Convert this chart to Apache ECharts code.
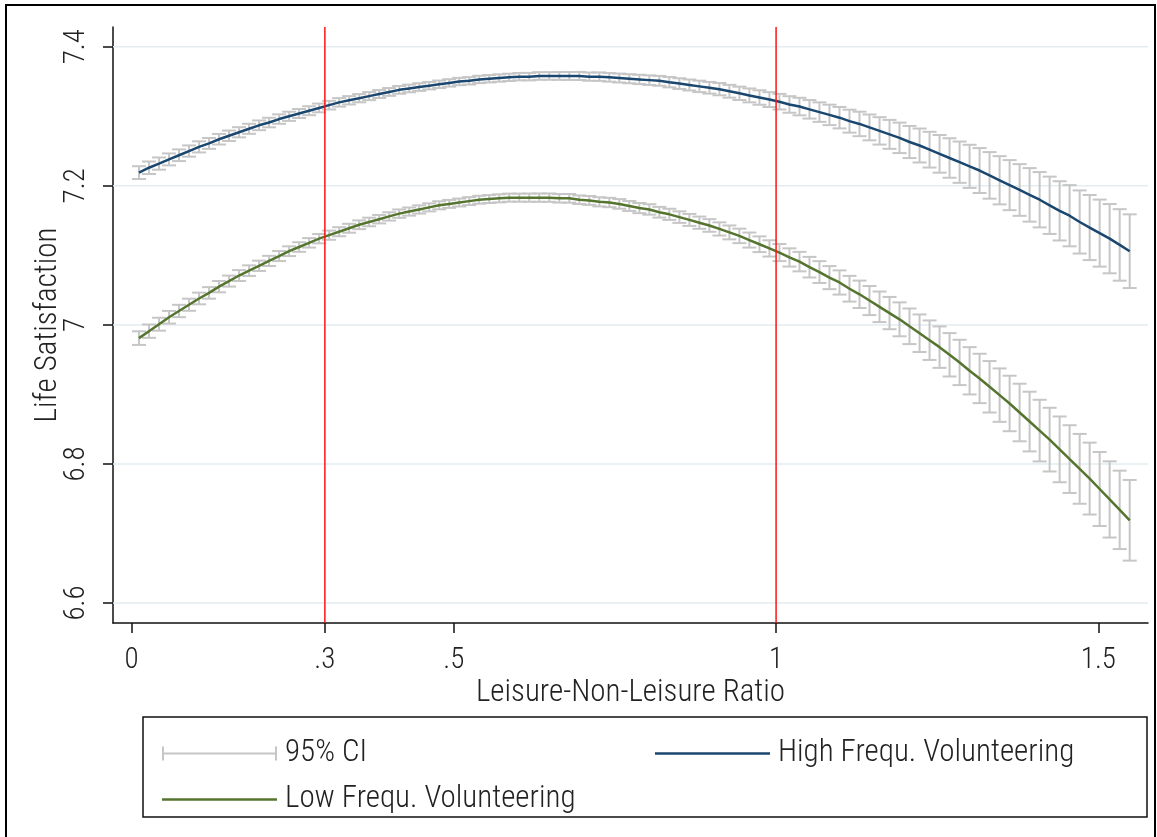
<!DOCTYPE html>
<html>
<head>
<meta charset="utf-8">
<script src="https://cdn.jsdelivr.net/npm/echarts@6/dist/echarts.min.js"></script>
<style>html,body{margin:0;padding:0;background:#fff}#c{width:1157px;height:837px}</style>
</head>
<body>
<div id="c"></div>
<script>
// ---- data ----
const xRatio = [0.0116,0.0271,0.0427,0.0582,0.0737,0.0892,0.1048,0.1203,0.1358,0.1513,0.1669,0.1824,0.1979,0.2134,0.2290,0.2445,0.2600,0.2755,0.2911,0.3066,0.3221,0.3376,0.3532,0.3687,0.3842,0.3997,0.4153,0.4308,0.4463,0.4618,0.4774,0.4929,0.5084,0.5239,0.5395,0.5550,0.5705,0.5860,0.6016,0.6171,0.6326,0.6481,0.6637,0.6792,0.6947,0.7102,0.7258,0.7413,0.7568,0.7723,0.7879,0.8034,0.8189,0.8344,0.8500,0.8655,0.8810,0.8965,0.9121,0.9276,0.9431,0.9586,0.9742,0.9897,1.0052,1.0207,1.0363,1.0518,1.0673,1.0828,1.0984,1.1139,1.1294,1.1449,1.1605,1.1760,1.1915,1.2070,1.2226,1.2381,1.2536,1.2691,1.2847,1.3002,1.3157,1.3312,1.3468,1.3623,1.3778,1.3933,1.4089,1.4244,1.4399,1.4554,1.4710,1.4865,1.5020,1.5175,1.5331,1.5486];
const highFit = [7.219,7.226,7.232,7.238,7.244,7.250,7.256,7.261,7.267,7.272,7.277,7.282,7.287,7.291,7.296,7.300,7.304,7.308,7.312,7.316,7.320,7.323,7.326,7.329,7.332,7.335,7.338,7.340,7.342,7.344,7.346,7.348,7.350,7.351,7.353,7.354,7.355,7.356,7.357,7.357,7.358,7.358,7.358,7.358,7.358,7.357,7.357,7.356,7.355,7.354,7.353,7.352,7.351,7.349,7.347,7.345,7.343,7.341,7.339,7.336,7.333,7.330,7.327,7.324,7.321,7.317,7.314,7.310,7.306,7.302,7.298,7.293,7.289,7.284,7.279,7.274,7.269,7.263,7.258,7.252,7.246,7.240,7.234,7.228,7.222,7.215,7.208,7.201,7.194,7.187,7.180,7.172,7.164,7.157,7.148,7.140,7.132,7.124,7.115,7.106];
const highCIHalf = [0.0092,0.0090,0.0088,0.0086,0.0084,0.0081,0.0080,0.0078,0.0076,0.0075,0.0073,0.0072,0.0070,0.0069,0.0068,0.0066,0.0065,0.0064,0.0063,0.0062,0.0061,0.0060,0.0059,0.0058,0.0057,0.0056,0.0056,0.0055,0.0055,0.0054,0.0054,0.0053,0.0053,0.0053,0.0053,0.0053,0.0053,0.0053,0.0053,0.0054,0.0055,0.0055,0.0056,0.0057,0.0058,0.0059,0.0061,0.0062,0.0064,0.0065,0.0067,0.0069,0.0071,0.0074,0.0077,0.0079,0.0082,0.0084,0.0088,0.0092,0.0096,0.0100,0.0104,0.0107,0.0112,0.0119,0.0126,0.0133,0.0140,0.0147,0.0154,0.0165,0.0176,0.0186,0.0197,0.0208,0.0219,0.0231,0.0244,0.0257,0.0271,0.0284,0.0297,0.0310,0.0323,0.0335,0.0347,0.0360,0.0372,0.0385,0.0398,0.0412,0.0426,0.0440,0.0454,0.0468,0.0482,0.0498,0.0514,0.0530];
const lowFit = [6.981,6.991,7.001,7.011,7.020,7.029,7.038,7.046,7.055,7.063,7.071,7.078,7.085,7.092,7.099,7.106,7.112,7.118,7.124,7.129,7.134,7.139,7.144,7.148,7.152,7.156,7.160,7.163,7.166,7.169,7.172,7.174,7.176,7.178,7.180,7.181,7.182,7.183,7.183,7.183,7.183,7.183,7.182,7.182,7.180,7.179,7.177,7.176,7.174,7.171,7.168,7.166,7.162,7.159,7.155,7.151,7.147,7.143,7.138,7.133,7.128,7.122,7.116,7.110,7.104,7.097,7.091,7.083,7.076,7.068,7.061,7.052,7.044,7.035,7.026,7.017,7.008,6.998,6.988,6.978,6.968,6.957,6.946,6.934,6.923,6.911,6.899,6.887,6.874,6.861,6.848,6.835,6.821,6.807,6.793,6.779,6.764,6.749,6.734,6.719];
const lowCIHalf = [0.0098,0.0096,0.0093,0.0091,0.0089,0.0087,0.0084,0.0083,0.0081,0.0079,0.0078,0.0076,0.0074,0.0073,0.0072,0.0070,0.0069,0.0068,0.0067,0.0066,0.0065,0.0064,0.0063,0.0062,0.0061,0.0060,0.0060,0.0059,0.0059,0.0058,0.0058,0.0057,0.0057,0.0057,0.0057,0.0057,0.0058,0.0058,0.0058,0.0059,0.0060,0.0060,0.0061,0.0062,0.0062,0.0064,0.0066,0.0067,0.0069,0.0071,0.0073,0.0075,0.0077,0.0080,0.0083,0.0086,0.0088,0.0091,0.0095,0.0100,0.0104,0.0108,0.0113,0.0117,0.0123,0.0131,0.0140,0.0148,0.0157,0.0166,0.0174,0.0185,0.0197,0.0209,0.0220,0.0232,0.0244,0.0256,0.0270,0.0284,0.0298,0.0312,0.0326,0.0340,0.0355,0.0370,0.0384,0.0399,0.0414,0.0429,0.0443,0.0458,0.0473,0.0487,0.0502,0.0517,0.0532,0.0548,0.0564,0.0580];
const xTickValues = [0, 0.3, 0.5, 1, 1.5];
const yTickValues = [6.6, 6.8, 7, 7.2, 7.4];
const refLines = [0.3, 1];
const seriesNames = ['95% CI', 'High Frequ. Volunteering', 'Low Frequ. Volunteering'];
const xTitle = 'Leisure-Non-Leisure Ratio';
const yTitle = 'Life Satisfaction';

// ---- build ----
const X_MIN = -0.0287, X_MAX = 1.577, Y_MIN = 6.5713, Y_MAX = 7.4284;
const FONT = "'Liberation Sans Narrow','Arial Narrow','Nimbus Sans Narrow','Roboto Condensed','Liberation Sans',sans-serif";
const TXT = '#222';
const FW = 300;
const ciData = [];
xRatio.forEach((x, i) => {
  ciData.push([x, highFit[i] - highCIHalf[i], highFit[i] + highCIHalf[i]]);
  ciData.push([x, lowFit[i] - lowCIHalf[i], lowFit[i] + lowCIHalf[i]]);
});
const highData = xRatio.map((x, i) => [x, highFit[i]]);
const lowData = xRatio.map((x, i) => [x, lowFit[i]]);

const CI_COLOR = '#c6c6c6';
const RED = '#ff1414';
function renderCI(params, api) {
  const x = api.value(0), lo = api.value(1), hi = api.value(2);
  const p1 = api.coord([x, lo]), p2 = api.coord([x, hi]);
  const cw = 7;
  const st = { stroke: CI_COLOR, lineWidth: 2 };
  return {
    type: 'group',
    children: [
      { type: 'line', shape: { x1: p1[0], y1: p1[1], x2: p2[0], y2: p2[1] }, style: st },
      { type: 'line', shape: { x1: p1[0] - cw, y1: p1[1], x2: p1[0] + cw, y2: p1[1] }, style: st },
      { type: 'line', shape: { x1: p2[0] - cw, y1: p2[1], x2: p2[0] + cw, y2: p2[1] }, style: st }
    ]
  };
}
function renderGrid(params, api) {
  const v = api.value(0);
  const a = api.coord([X_MIN, v]), b = api.coord([X_MAX, v]);
  return { type: 'line', shape: { x1: a[0], y1: a[1], x2: b[0], y2: b[1] }, style: { stroke: '#e3edf0', lineWidth: 1.5 } };
}
function renderRef(params, api) {
  const v = api.value(0);
  const a = api.coord([v, Y_MIN]), b = api.coord([v, Y_MAX]);
  return { type: 'line', shape: { x1: a[0], y1: a[1], x2: b[0], y2: b[1] }, style: { stroke: RED, lineWidth: 1.5 } };
}
const CI_ICON = 'path://M0,0h2v14h-2z M2,6h111v2h-111z M113,0h2v14h-2z';
const LINE_ICON = 'path://M0,0h0.01v0.01h-0.01z M0,5.75h115v2.5h-115z M114.99,13.99h0.01v0.01h-0.01z';

const chart = echarts.init(document.getElementById('c'), null, { renderer: 'canvas' });
const legendText = { fontSize: 31, fontWeight: FW, color: TXT, fontFamily: FONT, lineHeight: 30, padding: [0, 0, 0, 3] };
chart.setOption({
  animation: false,
  backgroundColor: '#fff',
  tooltip: { show: false },
  grid: { left: 113, right: 9, top: 27, bottom: 214 },
  xAxis: {
    type: 'value', min: X_MIN, max: X_MAX,
    axisLine: { onZero: false, lineStyle: { color: '#111', width: 1.5 } },
    axisTick: { customValues: xTickValues, length: 10, lineStyle: { color: '#111', width: 1.5 } },
    axisLabel: { customValues: xTickValues, margin: 23, fontSize: 29, fontWeight: FW, color: TXT, fontFamily: FONT,
      formatter: v => (v === 0 ? '0' : String(v).replace(/^0\./, '.')) },
    splitLine: { show: false }, minorSplitLine: { show: false }, axisPointer: { show: false },
    name: xTitle, nameLocation: 'middle', nameGap: 55, nameMoveOverlap: false,
    nameTextStyle: { fontSize: 31, fontWeight: FW, color: TXT, fontFamily: FONT }
  },
  yAxis: {
    type: 'value', min: Y_MIN, max: Y_MAX,
    axisLine: { onZero: false, lineStyle: { color: '#111', width: 1.5 } },
    axisTick: { customValues: yTickValues, length: 10, lineStyle: { color: '#111', width: 1.5 } },
    axisLabel: { customValues: yTickValues, rotate: 90, margin: 22, fontSize: 29, fontWeight: FW, color: TXT, fontFamily: FONT,
      formatter: v => String(v) },
    splitLine: { show: false }, minorSplitLine: { show: false }, axisPointer: { show: false },
    name: yTitle, nameLocation: 'middle', nameGap: 49, nameMoveOverlap: false,
    nameTextStyle: { fontSize: 31, fontWeight: FW, color: TXT, fontFamily: FONT }
  },
  legend: [
    { left: 157, top: 733, orient: 'vertical', itemWidth: 115, itemHeight: 14, itemGap: 15, selectedMode: false,
      data: [{ name: seriesNames[0], icon: CI_ICON }, { name: seriesNames[2], icon: LINE_ICON }], textStyle: legendText },
    { left: 650, top: 733, orient: 'vertical', itemWidth: 115, itemHeight: 14, selectedMode: false,
      data: [{ name: seriesNames[1], icon: LINE_ICON }], textStyle: legendText }
  ],
  graphic: [
    { type: 'rect', shape: { x: 6, y: 5, width: 1149, height: 840 }, style: { fill: 'none', stroke: '#000', lineWidth: 2 }, silent: true },
    { type: 'rect', shape: { x: 143, y: 717, width: 1004, height: 100 }, style: { fill: 'none', stroke: '#111', lineWidth: 1.5 }, silent: true }
  ],
  series: [
    { type: 'custom', z: 1, silent: true, renderItem: renderGrid, encode: { y: 0 },
      data: yTickValues.map(v => [v]), dimensions: ['y'] },
    { name: seriesNames[0], type: 'custom', z: 2, silent: true, renderItem: renderCI,
      itemStyle: { color: CI_COLOR }, encode: { x: 0, y: [1, 2] }, data: ciData },
    { type: 'custom', z: 10, silent: true, renderItem: renderRef, encode: { x: 0 },
      emphasis: { disabled: true }, itemStyle: { color: RED }, data: refLines.map(v => [v]), dimensions: ['x'] },
    { name: seriesNames[1], type: 'line', z: 4, symbol: 'none', silent: true,
      lineStyle: { color: '#1a476f', width: 2.5 }, itemStyle: { color: '#1a476f' }, data: highData },
    { name: seriesNames[2], type: 'line', z: 4, symbol: 'none', silent: true,
      lineStyle: { color: '#55752f', width: 2.5 }, itemStyle: { color: '#55752f' }, data: lowData }
  ]
});
</script>
</body>
</html>
